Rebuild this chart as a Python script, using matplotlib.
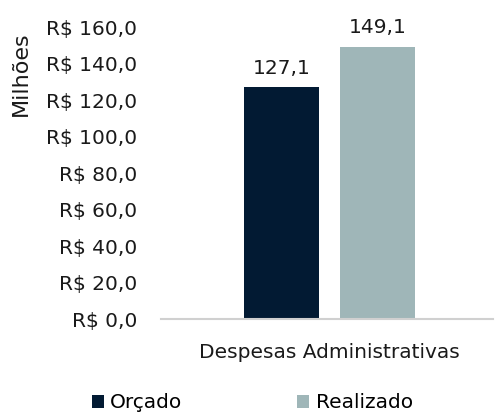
import matplotlib
matplotlib.use('Agg')
import matplotlib.pyplot as plt
from matplotlib.ticker import FuncFormatter

# data (R$ milhões)
categoria = "Despesas Administrativas"
series = ["Orçado", "Realizado"]
valores = [127.1, 149.1]
cores = ["#021a33", "#9fb6b8"]
yticks = [0, 20, 40, 60, 80, 100, 120, 140, 160]

plt.rcParams['font.family'] = ['DejaVu Sans']
fs = 14.5

fig = plt.figure(figsize=(4.95, 4.12), dpi=100)
ax = fig.add_axes([0.325, 0.225, 0.67, 0.709])

largura = 0.225
offsets = [-0.136, 0.154]
for nome, v, c, off in zip(series, valores, cores, offsets):
    b = ax.bar(off, v, width=largura, color=c, label=nome)
    ax.annotate(f"{v:.1f}".replace(".", ","), (off, v), xytext=(0, 7),
                textcoords="offset points", ha="center", va="bottom",
                fontsize=fs, color="#1a1a1a")

ax.set_xlim(-0.5, 0.5)
ax.set_ylim(0, 160)
ax.set_yticks(yticks)
ax.yaxis.set_major_formatter(FuncFormatter(lambda v, p: f"R$ {v:.1f}".replace(".", ",")))
ax.tick_params(axis='y', length=0, pad=17, labelsize=fs, labelcolor="#1a1a1a")
ax.set_xticks([0.009])
ax.set_xticklabels([categoria])
ax.tick_params(axis='x', length=0, pad=17, labelsize=fs, labelcolor="#1a1a1a")

for s in ["top", "right", "left"]:
    ax.spines[s].set_visible(False)
ax.spines["bottom"].set_color("#d0d0d0")
ax.spines["bottom"].set_linewidth(1.5)

fig.text(0.042, 0.82, "Milhões", rotation=90, ha="center", va="center",
         fontsize=16, color="#1a1a1a")

fig.legend(loc="lower center", bbox_to_anchor=(0.51, -0.045), ncol=2, frameon=False,
           fontsize=fs, handlelength=0.6, handleheight=0.6, handletextpad=0.3,
           columnspacing=5.7)

plt.savefig("out.png")
